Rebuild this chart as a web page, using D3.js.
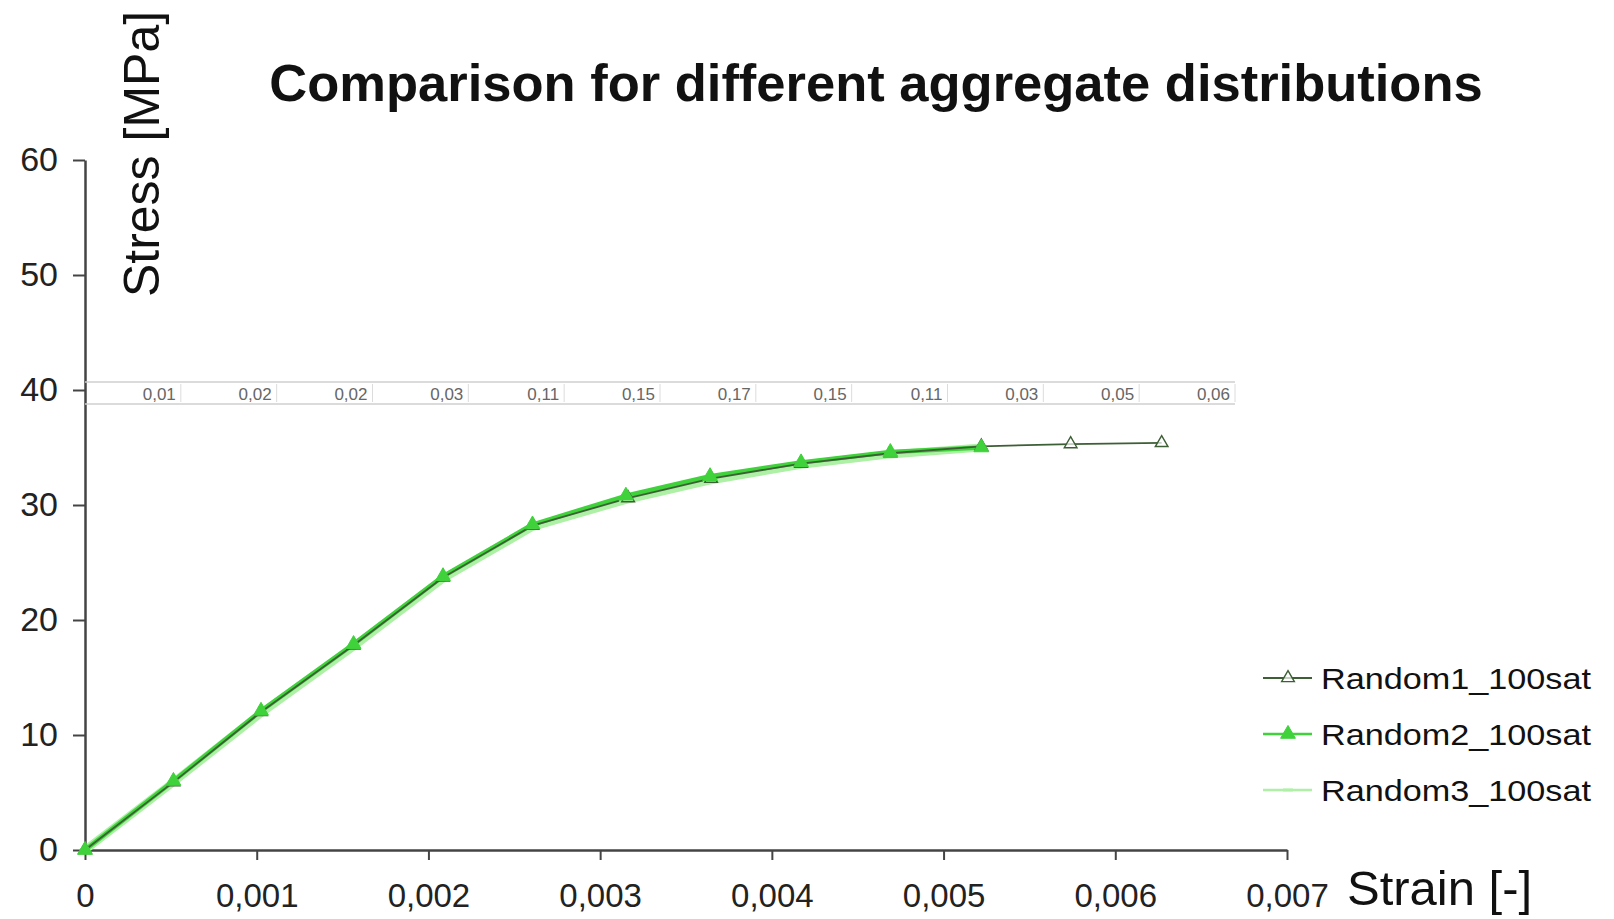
<!DOCTYPE html>
<html>
<head>
<meta charset="utf-8">
<script src="https://cdn.jsdelivr.net/npm/d3@7/dist/d3.min.js"></script>
<style>
  html, body { margin: 0; padding: 0; background: #fff; }
  svg { display: block; font-family: "Liberation Sans", Arial, sans-serif; }
</style>
</head>
<body>
<svg id="chart" width="1614" height="919"></svg>
<script>
// ---- data ----
const seriesNames = ["Random1_100sat", "Random2_100sat", "Random3_100sat"];
const strain1 = [0, 0.000515, 0.001025, 0.001564, 0.002085, 0.002606, 0.003163, 0.003646, 0.00417, 0.00469, 0.00522, 0.00574, 0.00627];
const stress1 = [0, 5.9, 12.0, 17.8, 23.7, 28.2, 30.6, 32.3, 33.6, 34.5, 35.1, 35.3, 35.4];
const strain2 = [0, 0.000515, 0.001025, 0.001564, 0.002085, 0.002606, 0.003150, 0.003640, 0.00417, 0.00469, 0.00522];
const stress2 = [0, 6.0, 12.1, 17.9, 23.8, 28.3, 30.8, 32.5, 33.7, 34.6, 35.0];
const strain3 = [0, 0.000515, 0.001025, 0.001564, 0.002085, 0.002606, 0.003140, 0.003630, 0.00417, 0.00469, 0.00522];
const stress3 = [0, 5.9, 11.9, 17.7, 23.6, 28.1, 30.4, 32.1, 33.5, 34.4, 35.0];
const xTicks = [0, 0.001, 0.002, 0.003, 0.004, 0.005, 0.006, 0.007];
const yTicks = [0, 10, 20, 30, 40, 50, 60];
const tableValues = [0.01, 0.02, 0.02, 0.03, 0.11, 0.15, 0.17, 0.15, 0.11, 0.03, 0.05, 0.06];

const svg = d3.select("#chart");
const x = d3.scaleLinear().domain([0, 0.007]).range([85, 1287]);
const y = d3.scaleLinear().domain([0, 60]).range([850, 160]);
const comma = v => v === 0 ? "0" : String(v).replace(".", ",");
const xFmt = v => v === 0 ? "0" : d3.format(".3f")(v).replace(".", ",");

// title
svg.append("text").attr("x", 876).attr("y", 101).attr("text-anchor", "middle")
  .attr("font-size", 52.5).attr("font-weight", "bold").attr("fill", "#111")
  .text("Comparison for different aggregate distributions");

// axes
const xAxis = svg.append("g").attr("transform", "translate(0,850)")
  .call(d3.axisBottom(x).tickValues(xTicks).tickFormat(xFmt).tickSize(10).tickPadding(24).tickSizeOuter(0));
xAxis.select(".domain").attr("stroke", "#444").attr("stroke-width", 2.5);
xAxis.selectAll(".tick line").attr("stroke", "#444").attr("stroke-width", 2);
xAxis.selectAll(".tick text").attr("font-size", 33).attr("fill", "#222").attr("font-family", "Liberation Sans, Arial, sans-serif");

const yAxis = svg.append("g").attr("transform", "translate(85,0)")
  .call(d3.axisLeft(y).tickValues(yTicks).tickFormat(d3.format("d")).tickSize(12).tickPadding(15).tickSizeOuter(0));
yAxis.select(".domain").attr("stroke", "#444").attr("stroke-width", 2.5);
yAxis.selectAll(".tick line").attr("stroke", "#444").attr("stroke-width", 2);
yAxis.selectAll(".tick text").attr("font-size", 34).attr("fill", "#222").attr("font-family", "Liberation Sans, Arial, sans-serif");

// axis titles
svg.append("text").attr("transform", "translate(159,154) rotate(-90)")
  .attr("text-anchor", "middle").attr("font-size", 50).attr("fill", "#111").text("Stress [MPa]");
svg.append("text").attr("x", 1347).attr("y", 905).attr("font-size", 49).attr("fill", "#111").text("Strain [-]");

// data table row
const tb = d3.scaleBand().domain(d3.range(tableValues.length)).range([85, 1235]);
const tg = svg.append("g");
tg.append("line").attr("x1", 85).attr("x2", 1235).attr("y1", 382).attr("y2", 382).attr("stroke", "#cfcfcf").attr("stroke-width", 1.5);
tg.append("line").attr("x1", 85).attr("x2", 1235).attr("y1", 404).attr("y2", 404).attr("stroke", "#cfcfcf").attr("stroke-width", 1.5);
tg.selectAll("line.sep").data(tableValues).join("line").attr("class", "sep")
  .attr("x1", (d, i) => tb(i) + tb.bandwidth()).attr("x2", (d, i) => tb(i) + tb.bandwidth())
  .attr("y1", 384).attr("y2", 402).attr("stroke", "#dcdcdc").attr("stroke-width", 1);
tg.selectAll("text").data(tableValues).join("text")
  .attr("x", (d, i) => tb(i) + tb.bandwidth() - 5).attr("y", 400)
  .attr("text-anchor", "end").attr("font-size", 17).attr("fill", "#666")
  .text(d => comma(d));

// series
const series = [
  { name: seriesNames[2], xs: strain3, ys: stress3, color: "#aef0a6", width: 8, marker: "dash" },
  { name: seriesNames[1], xs: strain2, ys: stress2, color: "#3fd23a", width: 4.5, marker: "tri-filled" },
  { name: seriesNames[0], xs: strain1, ys: stress1, color: "#3d5f35", width: 1.8, marker: "triangle" }
];
const line = d3.line().x(d => x(d[0])).y(d => y(d[1]));
function drawMarker(g, type, color) {
  if (type === "triangle") {
    g.append("path").attr("d", d3.symbol(d3.symbolTriangle, 70)()).attr("fill", "#fff").attr("fill-opacity", 0.7)
      .attr("stroke", color).attr("stroke-width", 1.4);
  } else if (type === "tri-filled") {
    g.append("path").attr("d", d3.symbol(d3.symbolTriangle, 95)()).attr("fill", color).attr("stroke", color).attr("stroke-width", 1);
  } else {
    g.append("path").attr("d", "M-5,0L5,0").attr("stroke", color).attr("stroke-width", 3);
  }
}
series.forEach(s => {
  const pts = s.xs.map((v, i) => [v, s.ys[i]]);
  svg.append("path").datum(pts).attr("d", line).attr("fill", "none")
    .attr("stroke", s.color).attr("stroke-width", s.width).attr("stroke-linejoin", "round");
});
// markers: Random1 first, Random2 on top
[series[0], series[2], series[1]].forEach(s => {
  const pts = s.xs.map((v, i) => [v, s.ys[i]]);
  pts.forEach(p => {
    const g = svg.append("g").attr("transform", `translate(${x(p[0])},${y(p[1])})`);
    drawMarker(g, s.marker, s.color);
  });
});

// legend
const legendOrder = [series[2], series[1], series[0]];
const ly = d3.scalePoint().domain(seriesNames).range([678, 790]);
legendOrder.forEach(s => {
  const g = svg.append("g").attr("transform", `translate(0,${ly(s.name)})`);
  g.append("line").attr("x1", 1263).attr("x2", 1312).attr("y1", 0).attr("y2", 0)
    .attr("stroke", s.color).attr("stroke-width", Math.min(s.width, 2.5));
  const m = g.append("g").attr("transform", "translate(1288,0)");
  drawMarker(m, s.marker, s.color);
  g.append("text").attr("x", 1321).attr("y", 11).attr("font-size", 29)
    .attr("textLength", 270).attr("lengthAdjust", "spacingAndGlyphs").attr("fill", "#111").text(s.name);
});
</script>
</body>
</html>
